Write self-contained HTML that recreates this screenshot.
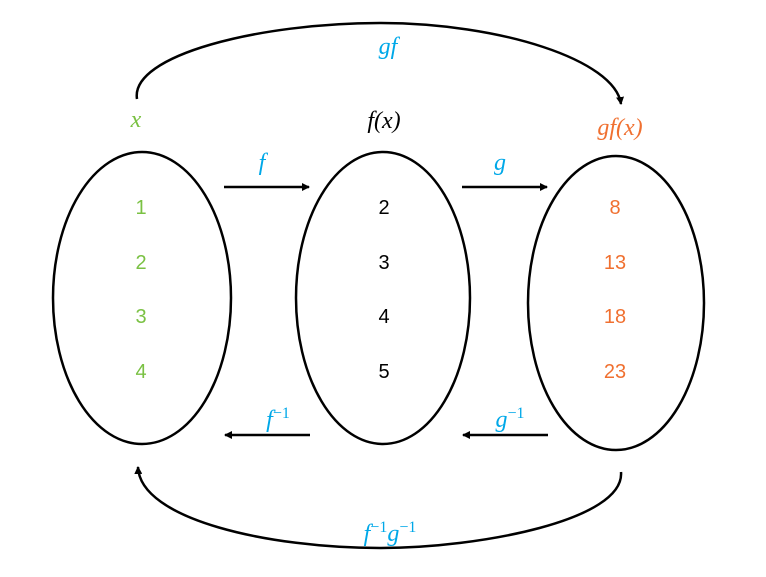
<!DOCTYPE html>
<html><head><style>
html,body{margin:0;padding:0;background:#fff;width:766px;height:577px;overflow:hidden}
text{font-family:"Liberation Sans",sans-serif}
.m{font-family:"Liberation Serif",serif;font-style:italic}
</style></head><body>
<svg width="766" height="577" viewBox="0 0 766 577" xmlns="http://www.w3.org/2000/svg">
<defs><marker id="a" markerWidth="8" markerHeight="8" refX="7" refY="4" orient="auto" markerUnits="userSpaceOnUse"><path d="M0,0 L8,4 L0,8 z" fill="#000"/></marker></defs>
<g fill="none" stroke="#000" stroke-width="2.5">
<ellipse cx="142" cy="298" rx="89" ry="146"/>
<ellipse cx="383" cy="298" rx="87" ry="146"/>
<ellipse cx="616" cy="303" rx="88" ry="147"/>
<path d="M137,99 C130,55 260,23 380,23 C500,23 615,60 621,104" marker-end="url(#a)"/>
<path d="M621,472 C625,520 480,548 380,548 C270,548 140,520 138,467" marker-end="url(#a)"/>
<line x1="224" y1="187" x2="309" y2="187" marker-end="url(#a)"/>
<line x1="462" y1="187" x2="547" y2="187" marker-end="url(#a)"/>
<line x1="310" y1="435" x2="225" y2="435" marker-end="url(#a)"/>
<line x1="548" y1="435" x2="463" y2="435" marker-end="url(#a)"/>
</g>
<g font-size="24" text-anchor="middle">
<text class="m" x="388" y="54" fill="#00a8e8">gf</text>
<text class="m" x="136" y="127" fill="#7ac143">x</text>
<text class="m" x="384" y="128" fill="#000">f(x)</text>
<text class="m" x="620" y="135" fill="#f07030">gf(x)</text>
<text class="m" x="262" y="170" fill="#00a8e8">f</text>
<text class="m" x="500" y="170" fill="#00a8e8">g</text>
<text class="m" x="278" y="427" fill="#00a8e8">f<tspan font-size="16" dy="-9" font-style="normal">−1</tspan></text>
<text class="m" x="510" y="427" fill="#00a8e8">g<tspan font-size="16" dy="-9" font-style="normal">−1</tspan></text>
<text class="m" x="390" y="541" fill="#00a8e8">f<tspan font-size="16" dy="-9" font-style="normal">−1</tspan><tspan dy="9">g</tspan><tspan font-size="16" dy="-9" font-style="normal">−1</tspan></text>
</g>
<g font-size="20" text-anchor="middle">
<g fill="#7ac143"><text x="141" y="214">1</text><text x="141" y="269">2</text><text x="141" y="323">3</text><text x="141" y="378">4</text></g>
<g fill="#000"><text x="384" y="214">2</text><text x="384" y="269">3</text><text x="384" y="323">4</text><text x="384" y="378">5</text></g>
<g fill="#f07030"><text x="615" y="214">8</text><text x="615" y="269">13</text><text x="615" y="323">18</text><text x="615" y="378">23</text></g>
</g>
</svg>
</body></html>
